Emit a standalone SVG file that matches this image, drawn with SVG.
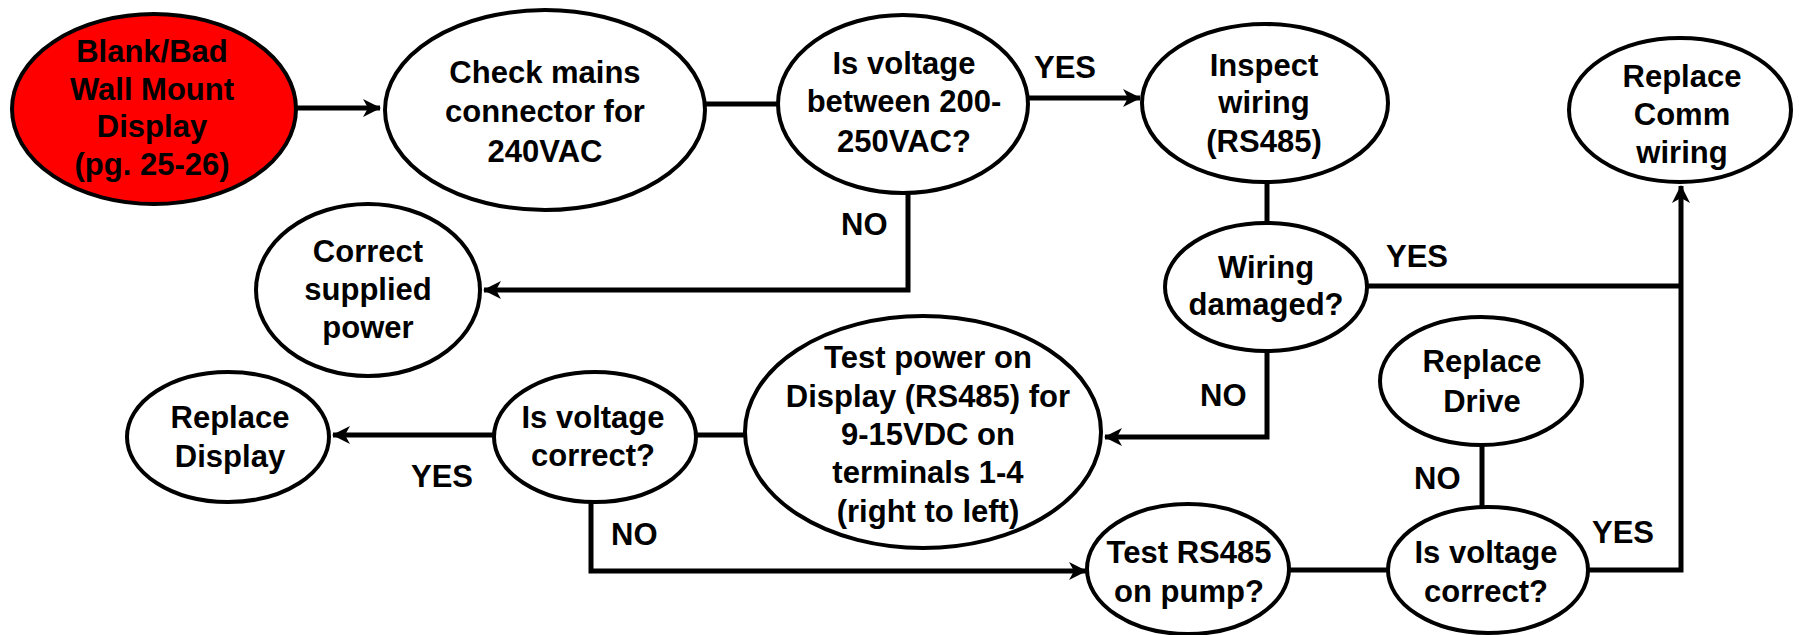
<svg xmlns="http://www.w3.org/2000/svg" width="1799" height="635" viewBox="0 0 1799 635">
<style>
.n{fill:#fff;stroke:#000;stroke-width:4}
.r{fill:#ff0000;stroke:#000;stroke-width:4}
.t{font-family:"Liberation Sans",Arial,sans-serif;font-weight:bold;font-size:31px;fill:#000;text-anchor:middle}
.l{font-family:"Liberation Sans",Arial,sans-serif;font-weight:bold;font-size:31px;fill:#000}
.c{fill:none;stroke:#000;stroke-width:5;stroke-linejoin:miter}
</style>
<defs>
<marker id="ah" markerUnits="userSpaceOnUse" markerWidth="20" markerHeight="20" refX="17" refY="9" orient="auto">
<path d="M0,0 L18,9 L0,18 L5,9 z" fill="#000"/>
</marker>
</defs>
<g id="connectors">
<path class="c" d="M297,108 H380" marker-end="url(#ah)"/>
<path class="c" d="M705,104 H778"/>
<path class="c" d="M1027,98 H1140" marker-end="url(#ah)"/>
<path class="c" d="M908,193 V290 H484" marker-end="url(#ah)"/>
<path class="c" d="M1267,182 V223"/>
<path class="c" d="M1366,286 H1681"/>
<path class="c" d="M1588,570 H1681 V186" marker-end="url(#ah)"/>
<path class="c" d="M1267,351 V437 H1105" marker-end="url(#ah)"/>
<path class="c" d="M745,435 H696"/>
<path class="c" d="M494,435 H333" marker-end="url(#ah)"/>
<path class="c" d="M591,502 V571 H1086" marker-end="url(#ah)"/>
<path class="c" d="M1289,570 H1388"/>
<path class="c" d="M1482,508 V445"/>
</g>
<g id="n-start">
<ellipse class="r" cx="154" cy="109" rx="142" ry="95"/>
<text class="t" x="152" y="62">Blank/Bad</text>
<text class="t" x="152" y="100">Wall Mount</text>
<text class="t" x="152" y="137">Display</text>
<text class="t" x="152" y="175">(pg. 25-26)</text>
</g>
<g id="n-check">
<ellipse class="n" cx="545" cy="110" rx="160" ry="100"/>
<text class="t" x="545" y="83">Check mains</text>
<text class="t" x="545" y="122">connector for</text>
<text class="t" x="545" y="162">240VAC</text>
</g>
<g id="n-isv1">
<ellipse class="n" cx="903" cy="104" rx="125" ry="89"/>
<text class="t" x="904" y="74">Is voltage</text>
<text class="t" x="904" y="112">between 200-</text>
<text class="t" x="904" y="152">250VAC?</text>
</g>
<g id="n-inspect">
<ellipse class="n" cx="1265" cy="103" rx="123" ry="79"/>
<text class="t" x="1264" y="76">Inspect</text>
<text class="t" x="1264" y="113">wiring</text>
<text class="t" x="1264" y="152">(RS485)</text>
</g>
<g id="n-comm">
<ellipse class="n" cx="1680" cy="110" rx="111" ry="72"/>
<text class="t" x="1682" y="87">Replace</text>
<text class="t" x="1682" y="125">Comm</text>
<text class="t" x="1682" y="163">wiring</text>
</g>
<g id="n-correct">
<ellipse class="n" cx="368" cy="290" rx="112" ry="86"/>
<text class="t" x="368" y="262">Correct</text>
<text class="t" x="368" y="300">supplied</text>
<text class="t" x="368" y="338">power</text>
</g>
<g id="n-wiring">
<ellipse class="n" cx="1266" cy="287" rx="101" ry="64"/>
<text class="t" x="1266" y="278">Wiring</text>
<text class="t" x="1266" y="315">damaged?</text>
</g>
<g id="n-drive">
<ellipse class="n" cx="1481" cy="381" rx="101" ry="64"/>
<text class="t" x="1482" y="372">Replace</text>
<text class="t" x="1482" y="412">Drive</text>
</g>
<g id="n-testpower">
<ellipse class="n" cx="923" cy="432" rx="178" ry="116"/>
<text class="t" x="928" y="368">Test power on</text>
<text class="t" x="928" y="407">Display (RS485) for</text>
<text class="t" x="928" y="445">9-15VDC on</text>
<text class="t" x="928" y="483">terminals 1-4</text>
<text class="t" x="928" y="522">(right to left)</text>
</g>
<g id="n-display">
<ellipse class="n" cx="228" cy="437" rx="101" ry="65"/>
<text class="t" x="230" y="428">Replace</text>
<text class="t" x="230" y="467">Display</text>
</g>
<g id="n-isv2">
<ellipse class="n" cx="595" cy="437" rx="101" ry="65"/>
<text class="t" x="593" y="428">Is voltage</text>
<text class="t" x="593" y="466">correct?</text>
</g>
<g id="n-rs485">
<ellipse class="n" cx="1188" cy="569" rx="101" ry="65"/>
<text class="t" x="1189" y="563">Test RS485</text>
<text class="t" x="1189" y="602">on pump?</text>
</g>
<g id="n-isv3">
<ellipse class="n" cx="1488" cy="570" rx="100" ry="63"/>
<text class="t" x="1486" y="563">Is voltage</text>
<text class="t" x="1486" y="602">correct?</text>
</g>
<g id="labels">
<text class="l" x="1034" y="78">YES</text>
<text class="l" x="841" y="235">NO</text>
<text class="l" x="1386" y="267">YES</text>
<text class="l" x="1200" y="406">NO</text>
<text class="l" x="411" y="487">YES</text>
<text class="l" x="611" y="545">NO</text>
<text class="l" x="1414" y="489">NO</text>
<text class="l" x="1592" y="543">YES</text>
</g>
</svg>
